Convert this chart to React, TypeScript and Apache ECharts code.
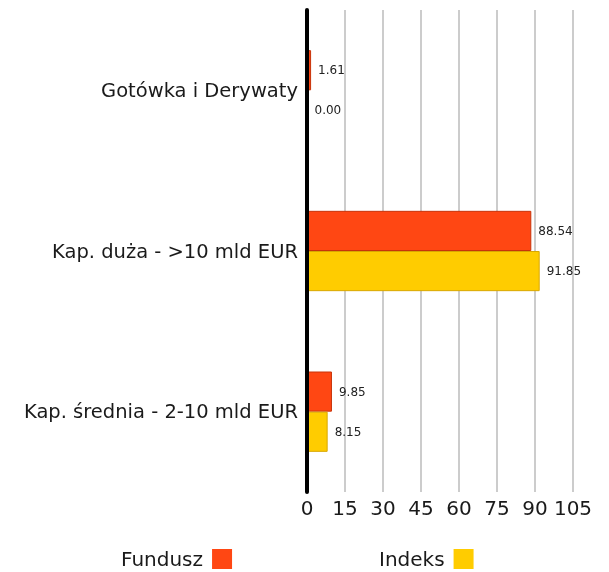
import React, { useEffect, useRef } from "react";
import * as echarts from "echarts";

const categories = ["Gotówka i Derywaty", "Kap. duża - >10 mld EUR", "Kap. średnia - 2-10 mld EUR"];
const funduszValues = [1.61, 88.54, 9.85];
const indeksValues = [0.0, 91.85, 8.15];
const seriesNames = ["Fundusz", "Indeks"];

const FONT = "DejaVu Sans";

export default function App() {
  const ref = useRef<HTMLDivElement>(null);
  useEffect(() => {
    if (!ref.current) return;
    const chart = echarts.init(ref.current, undefined, { renderer: "svg" });
    const labelCfg = {
      show: true,
      position: "right" as const,
      distance: 7,
      fontSize: 12,
      fontFamily: "DejaVu Sans",
      color: "#222",
      formatter: (p: any) => Number(p.value).toFixed(2),
    };
    const legendBase = {
      top: 549,
      align: "right",
      icon: "rect",
      itemWidth: 20,
      itemHeight: 20,
      itemStyle: { borderWidth: 0 },
      textStyle: { fontSize: 20, fontFamily: FONT, color: "#1a1a1a", padding: [0, 4, 0, 0] },
      selectedMode: false,
      padding: 0,
    };
    chart.setOption({
      animation: false,
      grid: { left: 307, right: 36, top: 10, bottom: 80, containLabel: false },
      legend: [
        { ...legendBase, data: [seriesNames[0]], left: 121 },
        { ...legendBase, data: [seriesNames[1]], left: 379 },
      ],
      xAxis: {
        type: "value",
        min: 0,
        max: 105,
        interval: 15,
        axisLine: { show: false },
        axisTick: { show: false },
        splitLine: { show: true, lineStyle: { color: "#cccccc", width: 2 } },
        axisLabel: { fontSize: 20, fontFamily: FONT, color: "#1a1a1a", margin: 6 },
      },
      yAxis: {
        type: "category",
        data: categories,
        inverse: true,
        z: 5,
        axisLine: { show: true, lineStyle: { color: "#000", width: 4 } },
        axisTick: { show: false },
        axisLabel: { fontSize: 19.5, fontFamily: FONT, color: "#1a1a1a", margin: 9 },
        splitLine: { show: false },
      },
      series: [
        {
          name: seriesNames[0],
          type: "bar",
          data: funduszValues,
          barCategoryGap: "50%",
          barGap: "0%",
          itemStyle: { color: "#FF4713", borderColor: "#C8340A", borderWidth: 1 },
          label: labelCfg,
        },
        {
          name: seriesNames[1],
          type: "bar",
          data: indeksValues,
          barCategoryGap: "50%",
          barGap: "0%",
          itemStyle: { color: "#FFCC00", borderColor: "#D9A800", borderWidth: 1 },
          label: labelCfg,
        },
      ],
    });
    return () => chart.dispose();
  }, []);
  return (
    <div
      ref={ref}
      style={{ position: "fixed", left: 0, top: 0, width: 609, height: 572 }}
    />
  );
}
